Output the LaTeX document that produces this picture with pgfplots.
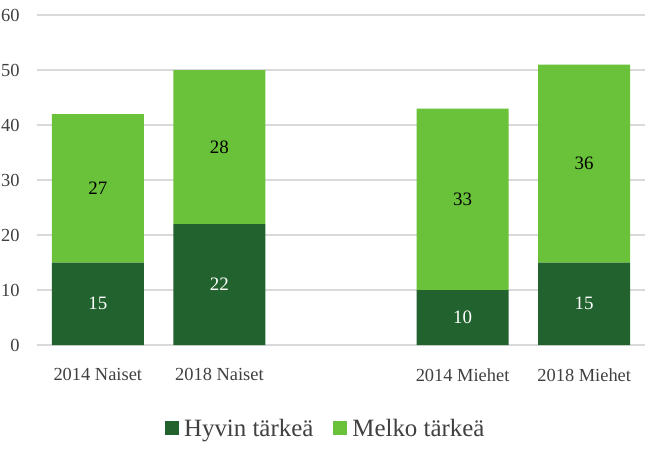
\documentclass[border=0pt]{standalone}
\usepackage{pgfplots}
\pgfplotsset{compat=1.18}
\usepackage{fontspec}
\setmainfont{Liberation Serif}
\definecolor{dkg}{HTML}{22622F}
\definecolor{ltg}{HTML}{6AC23A}
\definecolor{gridc}{HTML}{D9D9D9}
\definecolor{txt}{HTML}{404040}
\begin{document}
\begin{tikzpicture}[x=1bp,y=1bp]
\pgfplotsset{
  base/.style={
    at={(0bp,0bp)}, anchor=south west,
    scale only axis, width=608bp, height=330bp,
    ymin=0, ymax=60, xmin=-0.5, xmax=4.5,
  }
}
\begin{axis}[base,
  ybar stacked, bar width=92bp,
  ytick={0,10,...,60},
  xtick={0,1,3,4},
  xticklabels={2014 Naiset,2018 Naiset,2014 Miehet,2018 Miehet},
  axis line style={draw=none}, tick style={draw=none},
  ymajorgrids, grid style={gridc, line width=1.3pt},
  ticklabel style={font=\fontsize{18.5}{20}\selectfont, text=txt},
  /pgf/number format/assume math mode=true,
  yticklabel style={xshift=-14bp},
  xticklabel style={yshift=-20bp},
  legend style={at={(0.475,-0.252)}, anchor=center, draw=none, legend columns=2,
    font=\fontsize{25}{27}\selectfont, text=txt,
    /tikz/every even column/.append style={column sep=18bp}},
  legend image code/.code={\fill[#1] (0bp,-7bp) rectangle (14bp,7bp);},
]
\addplot[fill=dkg, draw=none] coordinates {(0,15) (1,22) (3,10) (4,15)};
\addplot[fill=ltg, draw=none] coordinates {(0,27) (1,28) (3,33) (4,36)};
\legend{\hspace{3bp}Hyvin tärkeä, \hspace{3bp}Melko tärkeä}
\end{axis}
\begin{axis}[base, axis lines=none,
  nodes near coords, point meta=explicit symbolic,
  every node near coord/.append style={anchor=center, font=\fontsize{19}{21}\selectfont}]
\addplot[only marks, mark=none, nodes near coords style={text=white}]
  coordinates {(0,7.5)[15] (1,11)[22] (3,5)[10] (4,7.5)[15]};
\addplot[only marks, mark=none, nodes near coords style={text=black}]
  coordinates {(0,28.5)[27] (1,36)[28] (3,26.5)[33] (4,33)[36]};
\end{axis}
\pgfresetboundingbox
\useasboundingbox (-37bp,-106bp) rectangle (616bp,345bp);
\end{tikzpicture}
\end{document}
